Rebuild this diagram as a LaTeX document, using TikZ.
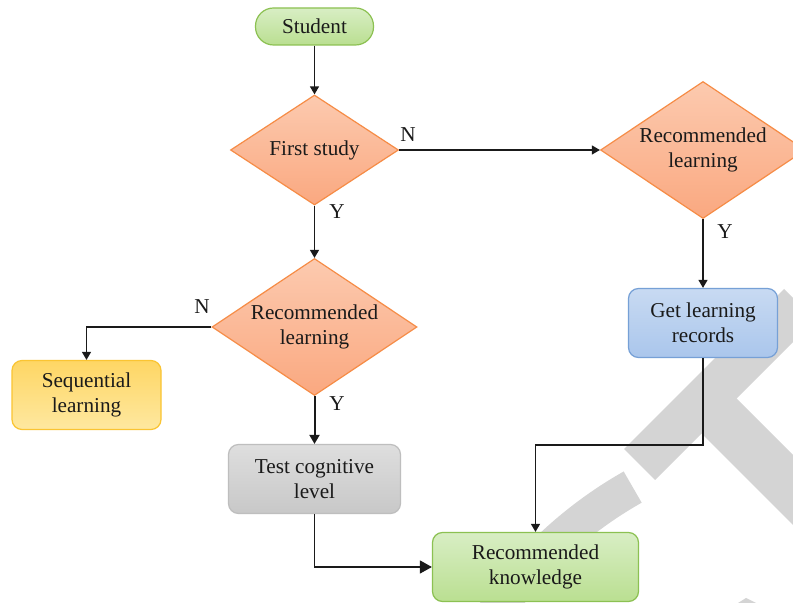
\documentclass[tikz,border=0pt]{standalone}
\usepackage{fontspec}
\setmainfont{Liberation Serif}
\usetikzlibrary{shapes.geometric,arrows.meta}
\definecolor{wm}{RGB}{212,212,212}
\definecolor{grT}{RGB}{216,238,196}\definecolor{grB}{RGB}{186,223,145}\definecolor{grD}{RGB}{140,193,82}
\definecolor{orT}{RGB}{252,202,175}\definecolor{orB}{RGB}{250,168,128}\definecolor{orD}{RGB}{246,140,70}
\definecolor{blT}{RGB}{200,218,242}\definecolor{blB}{RGB}{170,198,236}\definecolor{blD}{RGB}{118,160,214}
\definecolor{gyT}{RGB}{222,222,222}\definecolor{gyB}{RGB}{200,200,200}\definecolor{gyD}{RGB}{190,190,190}
\definecolor{ylT}{RGB}{254,214,100}\definecolor{ylB}{RGB}{254,232,160}\definecolor{ylD}{RGB}{250,196,50}
\definecolor{ink}{RGB}{26,26,26}
\begin{document}
\begin{tikzpicture}[x=0.5pt,y=-0.5pt,
  every node/.style={font=\fontsize{10.6}{12.5}\selectfont, text=ink, align=center},
  boxbase/.style={rectangle, rounded corners=5pt, line width=0.6pt, inner sep=0pt, minimum height=34.5pt},
  pill/.style={boxbase, rounded corners=9pt, draw=grD, top color=grT, bottom color=grB, minimum width=59pt, minimum height=18.5pt},
  greenbox/.style={boxbase, draw=grD, top color=grT, bottom color=grB},
  bluebox/.style={boxbase, draw=blD, top color=blT, bottom color=blB},
  graybox/.style={boxbase, draw=gyD, top color=gyT, bottom color=gyB},
  yellowbox/.style={boxbase, draw=ylD, top color=ylT, bottom color=ylB},
  decision/.style={diamond, shape aspect=1.5, inner sep=0pt, line width=0.6pt, draw=orD, top color=orT, bottom color=orB},
  conn/.style={draw=ink, line width=0.65pt, -{Triangle[length=4pt,width=4.5pt]}},
  connthick/.style={draw=ink, line width=1pt, -{Triangle[length=4.5pt,width=5pt]}},
  connbig/.style={draw=ink, line width=0.65pt, -{Triangle[length=6pt,width=6.5pt]}},
  lbl/.style={inner sep=0pt}
]
\useasboundingbox (0,0) rectangle (793,603);
\clip (0,0) rectangle (793,603);
\fill[white] (0,0) rectangle (793,603);
% watermark
\fill[wm] (624,449) -- (655,480) -- (815,320) -- (784,289) -- cycle;
\fill[wm] (684,416) -- (719,381) -- (919,581) -- (884,616) -- cycle;
\draw[wm, line width=18pt] plot[domain=206:240.5, samples=40] ({838+417*cos(\x)},{850+417*sin(\x)});
\fill[wm] (738,603) -- (746,598) -- (756,603) -- cycle;
% nodes
\node[pill] (student) at (314.5,26.5) {Student};
\node[decision, minimum width=84pt, minimum height=55pt] (first) at (314.5,150) {First study};
\node[decision, minimum width=102.5pt, minimum height=68.5pt] (rlA) at (703,150) {Recommended\\learning};
\node[decision, minimum width=102.5pt, minimum height=68.5pt] (rlB) at (314.5,327) {Recommended\\learning};
\node[bluebox, minimum width=74.5pt] (get) at (703,323) {Get learning\\records};
\node[yellowbox, minimum width=74.5pt] (seq) at (86.5,395) {Sequential\\learning};
\node[graybox, minimum width=86pt] (test) at (314.5,479) {Test cognitive\\level};
\node[greenbox, minimum width=103pt] (know) at (535.5,567) {Recommended\\knowledge};
% labels
\node[lbl] (n1) at (408,135) {N};
\node[lbl] (y1) at (337,212) {Y};
\node[lbl] (y2) at (725,232) {Y};
\node[lbl] (n2) at (202,307) {N};
\node[lbl] (y3) at (337,404) {Y};
% connectors
\coordinate (g1) at (703,445);
\draw[conn] (student) -- (first);
\draw[conn] (first.east) -- (rlA.west);
\draw[conn] (first.south) -- (rlB.north);
\draw[conn] (rlB.west) -| (seq.north);
\draw[connthick] (rlB.south) -- (test.north);
\draw[conn] (rlA.south) -- (get.north);
\draw[conn] (get.south) -- (g1) -| (know.north);
\draw[connbig] (test.south) |- (know.west);
\end{tikzpicture}
\end{document}
